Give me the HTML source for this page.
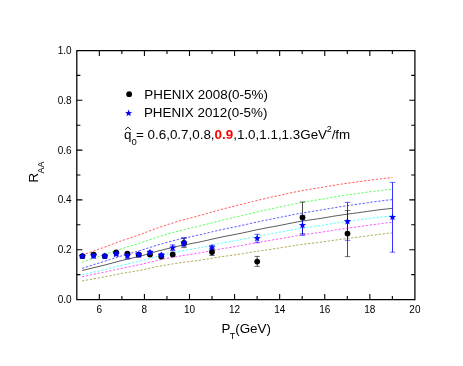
<!DOCTYPE html>
<html><head><meta charset="utf-8"><title>RAA</title>
<style>
html,body{margin:0;padding:0;background:#fff;}
svg{display:block;will-change:transform;font-family:"Liberation Sans",sans-serif;}
</style></head><body>
<svg width="463" height="366" viewBox="0 0 463 366">
<rect width="463" height="366" fill="#fff"/>
<g fill="none" stroke-width="0.65">
<path d="M82.1,255.2 L87.1,253.4 L92.1,251.6 L97.1,249.8 L102.1,248.0 L107.1,246.2 L112.1,244.3 L117.1,242.4 L122.2,240.6 L127.2,238.9 L132.2,237.2 L137.2,235.5 L142.2,233.7 L147.2,231.8 L152.2,229.9 L157.2,228.1 L162.2,226.4 L167.2,224.7 L172.2,223.1 L177.2,221.6 L182.2,220.1 L187.2,218.8 L192.2,217.5 L197.2,216.2 L202.3,214.8 L207.3,213.4 L212.3,211.9 L217.3,210.5 L222.3,209.1 L227.3,207.9 L232.3,206.7 L237.3,205.4 L242.3,204.2 L247.3,202.9 L252.3,201.6 L257.3,200.4 L262.3,199.2 L267.3,198.0 L272.3,196.9 L277.4,195.9 L282.4,194.8 L287.4,193.6 L292.4,192.5 L297.4,191.5 L302.4,190.5 L307.4,189.7 L312.4,188.9 L317.4,188.1 L322.4,187.3 L327.4,186.4 L332.4,185.6 L337.4,184.7 L342.4,183.9 L347.4,183.2 L352.4,182.5 L357.5,181.9 L362.5,181.2 L367.5,180.5 L372.5,179.8 L377.5,179.2 L382.5,178.6 L387.5,178.1 L392.5,177.6" stroke="#ff0000" stroke-dasharray="2.3 1.65"/>
<path d="M82.1,262.2 L87.1,260.5 L92.1,258.8 L97.1,257.1 L102.1,255.5 L107.1,253.8 L112.1,252.0 L117.1,250.2 L122.2,248.6 L127.2,247.0 L132.2,245.5 L137.2,244.0 L142.2,242.4 L147.2,240.7 L152.2,238.9 L157.2,237.2 L162.2,235.7 L167.2,234.2 L172.2,232.7 L177.2,231.4 L182.2,230.1 L187.2,228.9 L192.2,227.7 L197.2,226.6 L202.3,225.3 L207.3,224.0 L212.3,222.7 L217.3,221.4 L222.3,220.1 L227.3,219.0 L232.3,217.9 L237.3,216.7 L242.3,215.6 L247.3,214.3 L252.3,213.1 L257.3,211.9 L262.3,210.8 L267.3,209.7 L272.3,208.6 L277.4,207.6 L282.4,206.5 L287.4,205.4 L292.4,204.3 L297.4,203.3 L302.4,202.3 L307.4,201.5 L312.4,200.7 L317.4,199.9 L322.4,199.1 L327.4,198.2 L332.4,197.3 L337.4,196.4 L342.4,195.6 L347.4,194.9 L352.4,194.2 L357.5,193.5 L362.5,192.8 L367.5,192.1 L372.5,191.4 L377.5,190.8 L382.5,190.2 L387.5,189.7 L392.5,189.2" stroke="#00ff00" stroke-dasharray="2.3 1.65"/>
<path d="M82.1,268.4 L87.1,266.8 L92.1,265.2 L97.1,263.6 L102.1,262.1 L107.1,260.5 L112.1,258.9 L117.1,257.2 L122.2,255.7 L127.2,254.2 L132.2,252.8 L137.2,251.4 L142.2,249.9 L147.2,248.3 L152.2,246.7 L157.2,245.1 L162.2,243.7 L167.2,242.3 L172.2,241.0 L177.2,239.7 L182.2,238.5 L187.2,237.5 L192.2,236.4 L197.2,235.4 L202.3,234.3 L207.3,233.0 L212.3,231.8 L217.3,230.6 L222.3,229.5 L227.3,228.4 L232.3,227.4 L237.3,226.4 L242.3,225.3 L247.3,224.2 L252.3,223.0 L257.3,221.9 L262.3,220.9 L267.3,219.9 L272.3,218.9 L277.4,217.9 L282.4,216.9 L287.4,215.9 L292.4,214.8 L297.4,213.8 L302.4,213.0 L307.4,212.2 L312.4,211.4 L317.4,210.6 L322.4,209.8 L327.4,208.9 L332.4,208.1 L337.4,207.2 L342.4,206.4 L347.4,205.7 L352.4,204.9 L357.5,204.2 L362.5,203.5 L367.5,202.8 L372.5,202.0 L377.5,201.4 L382.5,200.7 L387.5,200.1 L392.5,199.6" stroke="#0000ff" stroke-dasharray="2.3 1.65"/>
<path d="M82.1,270.5 L87.1,269.3 L92.1,268.1 L97.1,266.9 L102.1,265.7 L107.1,264.4 L112.1,263.1 L117.1,261.7 L122.2,260.4 L127.2,259.2 L132.2,258.1 L137.2,256.9 L142.2,255.6 L147.2,254.2 L152.2,252.7 L157.2,251.3 L162.2,250.0 L167.2,248.7 L172.2,247.6 L177.2,246.4 L182.2,245.3 L187.2,244.4 L192.2,243.4 L197.2,242.5 L202.3,241.4 L207.3,240.3 L212.3,239.1 L217.3,238.0 L222.3,236.9 L227.3,235.9 L232.3,235.0 L237.3,234.0 L242.3,233.0 L247.3,231.9 L252.3,230.8 L257.3,229.7 L262.3,228.7 L267.3,227.7 L272.3,226.8 L277.4,225.9 L282.4,224.9 L287.4,223.9 L292.4,222.9 L297.4,221.9 L302.4,221.1 L307.4,220.3 L312.4,219.6 L317.4,218.9 L322.4,218.1 L327.4,217.3 L332.4,216.4 L337.4,215.6 L342.4,214.9 L347.4,214.1 L352.4,213.5 L357.5,212.8 L362.5,212.1 L367.5,211.4 L372.5,210.7 L377.5,210.0 L382.5,209.4 L387.5,208.9 L392.5,208.3" stroke="#000000"/>
<path d="M82.1,274.8 L87.1,273.7 L92.1,272.5 L97.1,271.3 L102.1,270.2 L107.1,269.0 L112.1,267.7 L117.1,266.3 L122.2,265.1 L127.2,264.0 L132.2,262.9 L137.2,261.7 L142.2,260.5 L147.2,259.2 L152.2,257.8 L157.2,256.4 L162.2,255.2 L167.2,254.0 L172.2,252.9 L177.2,251.9 L182.2,250.9 L187.2,249.9 L192.2,249.1 L197.2,248.2 L202.3,247.2 L207.3,246.2 L212.3,245.1 L217.3,244.0 L222.3,243.0 L227.3,242.1 L232.3,241.2 L237.3,240.3 L242.3,239.3 L247.3,238.3 L252.3,237.3 L257.3,236.3 L262.3,235.3 L267.3,234.4 L272.3,233.5 L277.4,232.6 L282.4,231.7 L287.4,230.7 L292.4,229.8 L297.4,228.9 L302.4,228.1 L307.4,227.4 L312.4,226.7 L317.4,226.0 L322.4,225.2 L327.4,224.4 L332.4,223.6 L337.4,222.8 L342.4,222.1 L347.4,221.4 L352.4,220.7 L357.5,220.1 L362.5,219.4 L367.5,218.7 L372.5,218.0 L377.5,217.4 L382.5,216.8 L387.5,216.2 L392.5,215.7" stroke="#00ffff" stroke-dasharray="2.3 1.65"/>
<path d="M82.1,276.8 L87.1,275.7 L92.1,274.7 L97.1,273.6 L102.1,272.6 L107.1,271.6 L112.1,270.4 L117.1,269.3 L122.2,268.2 L127.2,267.2 L132.2,266.2 L137.2,265.2 L142.2,264.1 L147.2,262.9 L152.2,261.7 L157.2,260.5 L162.2,259.4 L167.2,258.4 L172.2,257.4 L177.2,256.5 L182.2,255.6 L187.2,254.8 L192.2,254.1 L197.2,253.3 L202.3,252.5 L207.3,251.5 L212.3,250.6 L217.3,249.6 L222.3,248.7 L227.3,247.9 L232.3,247.1 L237.3,246.2 L242.3,245.4 L247.3,244.4 L252.3,243.5 L257.3,242.6 L262.3,241.7 L267.3,240.8 L272.3,240.0 L277.4,239.2 L282.4,238.3 L287.4,237.4 L292.4,236.5 L297.4,235.6 L302.4,234.8 L307.4,234.1 L312.4,233.5 L317.4,232.8 L322.4,232.0 L327.4,231.3 L332.4,230.4 L337.4,229.6 L342.4,228.9 L347.4,228.2 L352.4,227.5 L357.5,226.8 L362.5,226.2 L367.5,225.5 L372.5,224.7 L377.5,224.1 L382.5,223.4 L387.5,222.8 L392.5,222.2" stroke="#ff00ff" stroke-dasharray="2.3 1.65"/>
<path d="M82.1,281.0 L87.1,280.0 L92.1,279.1 L97.1,278.2 L102.1,277.3 L107.1,276.4 L112.1,275.4 L117.1,274.3 L122.2,273.3 L127.2,272.5 L132.2,271.7 L137.2,270.8 L142.2,269.9 L147.2,268.8 L152.2,267.7 L157.2,266.6 L162.2,265.7 L167.2,264.8 L172.2,264.0 L177.2,263.2 L182.2,262.4 L187.2,261.8 L192.2,261.2 L197.2,260.6 L202.3,259.8 L207.3,259.0 L212.3,258.2 L217.3,257.4 L222.3,256.6 L227.3,255.9 L232.3,255.2 L237.3,254.5 L242.3,253.8 L247.3,252.9 L252.3,252.1 L257.3,251.3 L262.3,250.5 L267.3,249.8 L272.3,249.0 L277.4,248.3 L282.4,247.5 L287.4,246.7 L292.4,245.9 L297.4,245.1 L302.4,244.4 L307.4,243.8 L312.4,243.2 L317.4,242.6 L322.4,242.0 L327.4,241.2 L332.4,240.5 L337.4,239.8 L342.4,239.1 L347.4,238.4 L352.4,237.8 L357.5,237.2 L362.5,236.6 L367.5,235.9 L372.5,235.2 L377.5,234.6 L382.5,234.0 L387.5,233.4 L392.5,232.9" stroke="#808000" stroke-dasharray="2.3 1.65"/>
</g>
<g stroke="#000" fill="none">
<path d="M184.0,238.0V247.6" stroke-width="0.7"/><path d="M181.2,238.0h5.5M181.2,247.6h5.5" stroke-width="0.55"/>
<path d="M212.0,248.5V255.5" stroke-width="0.7"/><path d="M209.2,248.5h5.5M209.2,255.5h5.5" stroke-width="0.55"/>
<path d="M257.2,256.4V266.4" stroke-width="0.7"/><path d="M254.4,256.4h5.5M254.4,266.4h5.5" stroke-width="0.55"/>
<path d="M302.5,202.0V233.7" stroke-width="0.7"/><path d="M299.8,202.0h5.5M299.8,233.7h5.5" stroke-width="0.55"/>
<path d="M347.5,210.5V256.6" stroke-width="0.7"/><path d="M344.8,210.5h5.5M344.8,256.6h5.5" stroke-width="0.55"/>
</g>
<g stroke="#0000ff" fill="none">
<path d="M82.4,254.6V257.9" stroke-width="0.8"/><path d="M79.7,254.6h5.5M79.7,257.9h5.5" stroke-width="0.6"/>
<path d="M93.6,253.0V258.2" stroke-width="0.8"/><path d="M90.8,253.0h5.5M90.8,258.2h5.5" stroke-width="0.6"/>
<path d="M104.8,254.6V257.9" stroke-width="0.8"/><path d="M102.0,254.6h5.5M102.0,257.9h5.5" stroke-width="0.6"/>
<path d="M116.2,251.9V255.9" stroke-width="0.8"/><path d="M113.5,251.9h5.5M113.5,255.9h5.5" stroke-width="0.6"/>
<path d="M127.4,252.5V259.0" stroke-width="0.8"/><path d="M124.7,252.5h5.5M124.7,259.0h5.5" stroke-width="0.6"/>
<path d="M138.7,253.1V256.3" stroke-width="0.8"/><path d="M135.9,253.1h5.5M135.9,256.3h5.5" stroke-width="0.6"/>
<path d="M150.0,250.9V254.1" stroke-width="0.8"/><path d="M147.2,250.9h5.5M147.2,254.1h5.5" stroke-width="0.6"/>
<path d="M161.3,253.6V256.8" stroke-width="0.8"/><path d="M158.6,253.6h5.5M158.6,256.8h5.5" stroke-width="0.6"/>
<path d="M172.7,245.0V250.6" stroke-width="0.8"/><path d="M169.9,245.0h5.5M169.9,250.6h5.5" stroke-width="0.6"/>
<path d="M184.0,237.8V246.3" stroke-width="0.8"/><path d="M181.2,237.8h5.5M181.2,246.3h5.5" stroke-width="0.6"/>
<path d="M212.0,245.3V249.7" stroke-width="0.8"/><path d="M209.2,245.3h5.5M209.2,249.7h5.5" stroke-width="0.6"/>
<path d="M257.2,234.3V242.7" stroke-width="0.8"/><path d="M254.4,234.3h5.5M254.4,242.7h5.5" stroke-width="0.6"/>
<path d="M302.5,215.3V235.3" stroke-width="0.8"/><path d="M299.8,215.3h5.5M299.8,235.3h5.5" stroke-width="0.6"/>
<path d="M347.5,202.4V240.3" stroke-width="0.8"/><path d="M344.8,202.4h5.5M344.8,240.3h5.5" stroke-width="0.6"/>
<path d="M392.5,182.4V252.2" stroke-width="0.8"/><path d="M389.8,182.4h5.5M389.8,252.2h5.5" stroke-width="0.6"/>
</g>
<g fill="#000">
<circle cx="82.4" cy="256.1" r="2.9"/>
<circle cx="93.6" cy="254.6" r="2.9"/>
<circle cx="104.8" cy="256.1" r="2.9"/>
<circle cx="116.2" cy="252.5" r="2.9"/>
<circle cx="127.4" cy="253.7" r="2.9"/>
<circle cx="138.7" cy="254.7" r="2.9"/>
<circle cx="150.0" cy="254.6" r="2.9"/>
<circle cx="161.3" cy="256.5" r="2.9"/>
<circle cx="172.7" cy="254.4" r="2.9"/>
<circle cx="184.0" cy="243.0" r="2.9"/>
<circle cx="212.0" cy="252.0" r="2.9"/>
<circle cx="257.2" cy="261.6" r="2.9"/>
<circle cx="302.5" cy="217.6" r="2.9"/>
<circle cx="347.5" cy="233.6" r="2.9"/>
</g>
<g fill="#0000ff">
<polygon points="82.40,252.50 83.55,254.67 85.97,255.09 84.25,256.85 84.60,259.28 82.40,258.20 80.20,259.28 80.55,256.85 78.83,255.09 81.25,254.67"/>
<polygon points="93.60,251.85 94.75,254.02 97.17,254.44 95.45,256.20 95.80,258.63 93.60,257.55 91.40,258.63 91.75,256.20 90.03,254.44 92.45,254.02"/>
<polygon points="104.80,252.50 105.95,254.67 108.37,255.09 106.65,256.85 107.00,259.28 104.80,258.20 102.60,259.28 102.95,256.85 101.23,255.09 103.65,254.67"/>
<polygon points="116.20,250.15 117.35,252.32 119.77,252.74 118.05,254.50 118.40,256.93 116.20,255.85 114.00,256.93 114.35,254.50 112.63,252.74 115.05,252.32"/>
<polygon points="127.40,251.95 128.55,254.12 130.97,254.54 129.25,256.30 129.60,258.73 127.40,257.65 125.20,258.73 125.55,256.30 123.83,254.54 126.25,254.12"/>
<polygon points="138.70,250.95 139.85,253.12 142.27,253.54 140.55,255.30 140.90,257.73 138.70,256.65 136.50,257.73 136.85,255.30 135.13,253.54 137.55,253.12"/>
<polygon points="150.00,248.75 151.15,250.92 153.57,251.34 151.85,253.10 152.20,255.53 150.00,254.45 147.80,255.53 148.15,253.10 146.43,251.34 148.85,250.92"/>
<polygon points="161.30,251.45 162.45,253.62 164.87,254.04 163.15,255.80 163.50,258.23 161.30,257.15 159.10,258.23 159.45,255.80 157.73,254.04 160.15,253.62"/>
<polygon points="172.70,244.05 173.64,246.51 176.27,246.64 174.22,248.29 174.90,250.83 172.70,249.40 170.50,250.83 171.18,248.29 169.13,246.64 171.76,246.51"/>
<polygon points="184.00,239.25 185.15,241.42 187.57,241.84 185.85,243.60 186.20,246.03 184.00,244.95 181.80,246.03 182.15,243.60 180.43,241.84 182.85,241.42"/>
<polygon points="212.00,243.75 212.94,246.21 215.57,246.34 213.52,247.99 214.20,250.53 212.00,249.10 209.80,250.53 210.48,247.99 208.43,246.34 211.06,246.21"/>
<polygon points="257.20,234.65 258.14,237.11 260.77,237.24 258.72,238.89 259.40,241.43 257.20,240.00 255.00,241.43 255.68,238.89 253.63,237.24 256.26,237.11"/>
<polygon points="302.50,221.55 303.44,224.01 306.07,224.14 304.02,225.79 304.70,228.33 302.50,226.90 300.30,228.33 300.98,225.79 298.93,224.14 301.56,224.01"/>
<polygon points="347.50,217.65 348.44,220.11 351.07,220.24 349.02,221.89 349.70,224.43 347.50,223.00 345.30,224.43 345.98,221.89 343.93,220.24 346.56,220.11"/>
<polygon points="392.50,213.45 393.44,215.91 396.07,216.04 394.02,217.69 394.70,220.23 392.50,218.80 390.30,220.23 390.98,217.69 388.93,216.04 391.56,215.91"/>
</g>
<path d="M76.8,50.5H414.9V299.5H76.8Z" fill="none" stroke="#000" stroke-width="1.25"/>
<path d="M99.34,299.5v-5.6M99.34,50.5v5.6M121.88,299.5v-3.6M121.88,50.5v3.6M144.42,299.5v-5.6M144.42,50.5v5.6M166.96,299.5v-3.6M166.96,50.5v3.6M189.50,299.5v-5.6M189.50,50.5v5.6M212.04,299.5v-3.6M212.04,50.5v3.6M234.58,299.5v-5.6M234.58,50.5v5.6M257.12,299.5v-3.6M257.12,50.5v3.6M279.66,299.5v-5.6M279.66,50.5v5.6M302.20,299.5v-3.6M302.20,50.5v3.6M324.74,299.5v-5.6M324.74,50.5v5.6M347.28,299.5v-3.6M347.28,50.5v3.6M369.82,299.5v-5.6M369.82,50.5v5.6M392.36,299.5v-3.6M392.36,50.5v3.6M76.8,274.60h3.6M414.9,274.60h-3.6M76.8,249.70h5.6M414.9,249.70h-5.6M76.8,224.80h3.6M414.9,224.80h-3.6M76.8,199.90h5.6M414.9,199.90h-5.6M76.8,175.00h3.6M414.9,175.00h-3.6M76.8,150.10h5.6M414.9,150.10h-5.6M76.8,125.20h3.6M414.9,125.20h-3.6M76.8,100.30h5.6M414.9,100.30h-5.6M76.8,75.40h3.6M414.9,75.40h-3.6" fill="none" stroke="#000" stroke-width="1.1"/>
<g font-size="10" fill="#000">
<text x="99.3" y="312.9" text-anchor="middle">6</text>
<text x="144.4" y="312.9" text-anchor="middle">8</text>
<text x="189.5" y="312.9" text-anchor="middle">10</text>
<text x="234.6" y="312.9" text-anchor="middle">12</text>
<text x="279.7" y="312.9" text-anchor="middle">14</text>
<text x="324.7" y="312.9" text-anchor="middle">16</text>
<text x="369.8" y="312.9" text-anchor="middle">18</text>
<text x="414.9" y="312.9" text-anchor="middle">20</text>
<text x="71.7" y="302.9" text-anchor="end">0.0</text>
<text x="71.7" y="253.1" text-anchor="end">0.2</text>
<text x="71.7" y="203.3" text-anchor="end">0.4</text>
<text x="71.7" y="153.5" text-anchor="end">0.6</text>
<text x="71.7" y="103.7" text-anchor="end">0.8</text>
<text x="71.7" y="53.9" text-anchor="end">1.0</text>
</g>
<text x="221.4" y="333.4" font-size="13.4" fill="#000">P<tspan font-size="9" dy="5.4" dx="-0.6">T</tspan><tspan dy="-5.4">(GeV)</tspan></text>
<text transform="translate(38.2,182.6) rotate(-90)" font-size="13.4" fill="#000">R<tspan font-size="9" dy="5.3" dx="-0.5">AA</tspan></text>
<circle cx="129.15" cy="94.2" r="2.9" fill="#000"/>
<polygon points="128.60,109.60 129.51,112.05 132.12,112.16 130.07,113.78 130.77,116.29 128.60,114.85 126.43,116.29 127.13,113.78 125.08,112.16 127.69,112.05" fill="#0000ff"/>
<g font-size="13.4" fill="#000">
<text x="144.3" y="98.5">PHENIX 2008(0-5%)</text>
<text x="143.9" y="117.05">PHENIX 2012(0-5%)</text>
<text x="123.9" y="139">q<tspan font-size="9.5" dy="5.5" dx="0.2">0</tspan><tspan dy="-5.5" dx="-0.8">= 0.6,0.7,0.8,</tspan><tspan font-weight="bold" fill="#ff0000">0.9</tspan>,1.0,1.1,1.3GeV<tspan font-size="9" dy="-7" dx="-0.4">2</tspan><tspan dy="7">/fm</tspan></text>
<path d="M125.1,129.7L127.95,127.15L130.8,129.7" fill="none" stroke="#000" stroke-width="0.9"/>
</g>
</svg></body></html>
